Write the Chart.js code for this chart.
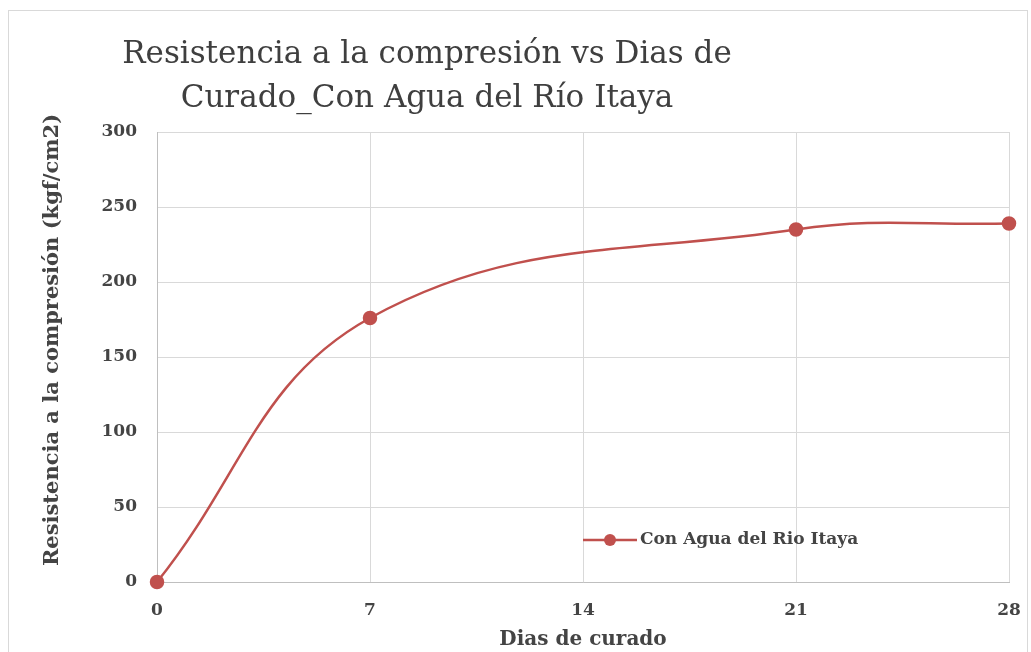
<!DOCTYPE html>
<html lang="es">
<head>
<meta charset="utf-8">
<title>Resistencia a la compresión vs Dias de Curado</title>
<script src="https://cdn.jsdelivr.net/npm/chart.js@4.4.1/dist/chart.umd.min.js"></script>
<style>
  html, body { margin: 0; padding: 0; background: #ffffff; }
  #wrap { width: 1031px; height: 652px; position: relative; }
  canvas { display: block; }
</style>
</head>
<body>
<div id="wrap"><canvas id="chart" width="1031" height="652"></canvas></div>
<script>
// Curing age (days) and compressive strength (kgf/cm2)
const dias = [0, 7, 21, 28];
const resistencia = [0, 176, 235, 239];
const xTicks = [0, 7, 14, 21, 28];
const yTicks = [0, 50, 100, 150, 200, 250, 300];

const titleLines = ['Resistencia a la compresión vs Dias de', 'Curado_Con Agua del Río Itaya'];
const serieNombre = 'Con Agua del Rio Itaya';
const ejeX = 'Dias de curado';
const ejeY = 'Resistencia a la compresión (kgf/cm2)';

const rojo = '#c0504d';
const texto = '#444444';
const serif = '"DejaVu Serif", "Liberation Serif", serif';

// Outer frame behind everything
const framePlugin = {
  id: 'frame',
  beforeDraw(chart) {
    const ctx = chart.ctx;
    ctx.save();
    ctx.fillStyle = '#ffffff';
    ctx.fillRect(0, 0, chart.width, chart.height);
    ctx.strokeStyle = '#d9d9d9';
    ctx.lineWidth = 1;
    ctx.strokeRect(8.5, 10.5, 1019, 700);
    ctx.restore();
  }
};

// Two-line heading and the vertical axis caption
const headingPlugin = {
  id: 'heading',
  afterDraw(chart) {
    const ctx = chart.ctx;
    ctx.save();
    ctx.fillStyle = '#3f3f3f';
    ctx.font = '31px ' + serif;
    ctx.textAlign = 'center';
    ctx.textBaseline = 'alphabetic';
    ctx.fillText(titleLines[0], 427, 63);
    ctx.fillText(titleLines[1], 427, 107);

    ctx.translate(53, 340);
    ctx.rotate(-Math.PI / 2);
    ctx.fillStyle = texto;
    ctx.font = 'bold 21px ' + serif;
    ctx.textBaseline = 'middle';
    ctx.fillText(ejeY, 0, 0);
    ctx.restore();
  }
};

// Legend entry placed inside the plot area, lower right
const insideLegend = {
  id: 'insideLegend',
  afterDraw(chart) {
    const ds = chart.data.datasets[0];
    const ctx = chart.ctx;
    const y = 540;
    ctx.save();
    ctx.strokeStyle = ds.borderColor;
    ctx.lineWidth = ds.borderWidth;
    ctx.beginPath();
    ctx.moveTo(583, y);
    ctx.lineTo(637, y);
    ctx.stroke();
    ctx.fillStyle = ds.pointBackgroundColor;
    ctx.beginPath();
    ctx.arc(610, y, ds.pointRadius, 0, Math.PI * 2);
    ctx.fill();
    ctx.fillStyle = texto;
    ctx.font = 'bold 17px ' + serif;
    ctx.textAlign = 'left';
    ctx.textBaseline = 'middle';
    ctx.fillText(ds.label, 640, y);
    ctx.restore();
  }
};

new Chart(document.getElementById('chart'), {
  type: 'line',
  data: {
    datasets: [{
      label: serieNombre,
      data: dias.map((d, i) => ({ x: d, y: resistencia[i] })),
      borderColor: rojo,
      backgroundColor: rojo,
      pointBackgroundColor: rojo,
      pointBorderColor: rojo,
      pointRadius: 6,
      borderWidth: 2.5,
      tension: 0.4,
      clip: false,
      fill: false
    }]
  },
  options: {
    responsive: false,
    animation: false,
    events: [],
    layout: { padding: { left: 0, top: 132, right: 22, bottom: 0 } },
    plugins: {
      legend: { display: false },
      title: { display: false },
      tooltip: { enabled: false }
    },
    scales: {
      x: {
        type: 'linear',
        min: 0,
        max: 28,
        afterBuildTicks(scale) { scale.ticks = xTicks.map(v => ({ value: v })); },
        afterFit(scale) { scale.height = 70; },
        grid: { color: '#d9d9d9', drawTicks: true, tickLength: 16, tickColor: 'rgba(0,0,0,0)' },
        border: { color: '#bfbfbf' },
        ticks: {
          padding: 2,
          color: texto,
          font: { family: serif, size: 17, weight: 'bold' }
        },
        title: {
          display: true,
          text: ejeX,
          color: texto,
          padding: { top: 0, bottom: 0 },
          font: { family: serif, size: 20, weight: 'bold' }
        }
      },
      y: {
        min: 0,
        max: 300,
        afterBuildTicks(scale) { scale.ticks = yTicks.map(v => ({ value: v })); },
        afterFit(scale) { scale.width = 157; },
        grid: { color: '#d9d9d9', drawTicks: false },
        border: { color: '#bfbfbf' },
        ticks: {
          padding: 20,
          color: texto,
          font: { family: serif, size: 17, weight: 'bold' }
        },
        title: { display: false }
      }
    }
  },
  plugins: [framePlugin, headingPlugin, insideLegend]
});
</script>
</body>
</html>
